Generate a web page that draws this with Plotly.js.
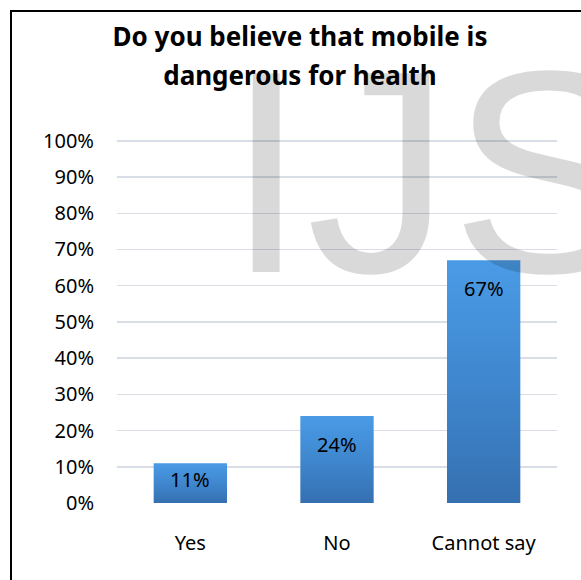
<!DOCTYPE html>
<html>
<head>
<meta charset="utf-8">
<script src="https://cdn.plot.ly/plotly-3.0.1.min.js"></script>
<style>
  html, body { margin:0; padding:0; background:#fff; overflow:hidden; }
  #wrap { position:relative; width:581px; height:580px; overflow:hidden; }
  #chart { position:absolute; left:0; top:0; width:581px; height:580px; }
  #frame { position:absolute; left:10px; top:10px; width:700px; height:700px; border:2px solid #000; box-sizing:border-box; pointer-events:none; }
  #wm { position:absolute; left:226px; top:27px; font-family:"Liberation Sans", Arial, sans-serif; font-size:289px; line-height:1; color:rgba(0,0,0,0.15); white-space:nowrap; pointer-events:none; }
</style>
</head>
<body>
<div id="wrap">
  <div id="chart"></div>
  <div id="wm">IJS</div>
  <div id="frame"></div>
</div>
<script>
const categories = ['Yes', 'No', 'Cannot say'];
const values = [0.11, 0.24, 0.67];
const valueLabels = ['11%', '24%', '67%'];
const titleText = 'Do you believe that mobile is<br>dangerous for health';

const FONT = 'Noto Sans, Open Sans, sans-serif';
const yTop = 1.005;
const plotH = 580 - 139 - 77;
const pxPerUnit = plotH / yTop;

const annotations = categories.map((c, i) => ({
  x: c, y: values[i], xref: 'x', yref: 'y',
  text: valueLabels[i], showarrow: false,
  xanchor: 'center', yanchor: 'middle',
  yshift: -Math.min(28, values[i] * pxPerUnit / 2 - 4),
  font: { family: FONT, size: 20, color: '#000' }
}));

const trace = {
  type: 'bar', x: categories, y: values,
  marker: { color: '#3f86cc', line: { width: 0 } },
  hoverinfo: 'none'
};

const layout = {
  width: 581, height: 580,
  margin: { l: 117, r: 24, t: 139, b: 77, pad: 0 },
  paper_bgcolor: '#fff', plot_bgcolor: '#fff',
  bargap: 0.5,
  showlegend: false,
  title: {
    text: titleText,
    font: { family: FONT, size: 26, color: '#000', weight: 'bold' },
    x: 300 / 581, xref: 'container', xanchor: 'center',
    y: 1 - 46 / 580, yref: 'container', yanchor: 'top'
  },
  xaxis: {
    type: 'category', showline: false, ticks: '', showgrid: false, zeroline: false,
    tickfont: { family: FONT, size: 20, color: '#000' },
    ticklabelstandoff: 26
  },
  yaxis: {
    range: [0, yTop], dtick: 0.1, tick0: 0, tickformat: '.0%',
    showline: false, ticks: '', zeroline: false,
    gridcolor: '#d9dee6', gridwidth: 1.5,
    tickfont: { family: FONT, size: 20, color: '#000' },
    ticklabelstandoff: 22
  },
  annotations: annotations
};

Plotly.newPlot('chart', [trace], layout, { staticPlot: true, displayModeBar: false }).then(gd => {
  const svg = gd.querySelector('svg.main-svg');
  const ns = 'http://www.w3.org/2000/svg';
  let defs = svg.querySelector('defs');
  if (!defs) { defs = document.createElementNS(ns, 'defs'); svg.insertBefore(defs, svg.firstChild); }
  const grad = document.createElementNS(ns, 'linearGradient');
  grad.setAttribute('id', 'barGrad');
  grad.setAttribute('x1', '0'); grad.setAttribute('y1', '0');
  grad.setAttribute('x2', '0'); grad.setAttribute('y2', '1');
  [['0', '#4a9be6'], ['0.5', '#3f87cf'], ['1', '#3570b0']].forEach(([o, c]) => {
    const s = document.createElementNS(ns, 'stop');
    s.setAttribute('offset', o); s.setAttribute('stop-color', c);
    grad.appendChild(s);
  });
  defs.appendChild(grad);
  gd.querySelectorAll('.bars path').forEach(p => { p.style.fill = 'url(#barGrad)'; });
  const lines = gd.querySelectorAll('.gtitle tspan.line');
  if (lines.length > 1) lines[1].setAttribute('dy', '1.5em');
});
</script>
</body>
</html>
